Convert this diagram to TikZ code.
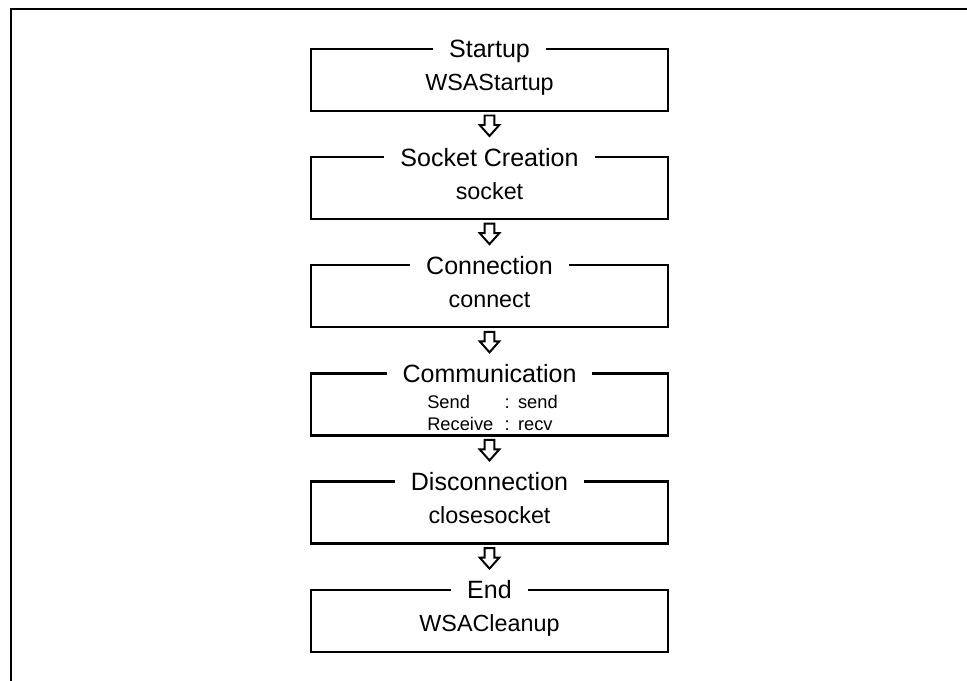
\documentclass[tikz,border=0pt]{standalone}
\usepackage{fontspec}
\setmainfont{Liberation Sans}
\usetikzlibrary{positioning,calc}

\tikzset{
  stage/.style={draw, line width=1.6pt, minimum width=8.925cm, minimum height=1.55cm, outer sep=0pt, inner sep=0pt},
  stagetitle/.style={fill=white, inner xsep=0.4cm, inner ysep=1pt, anchor=base, font=\fontsize{17.8}{21}\selectfont},
  stagefn/.style={anchor=base, inner sep=1pt, font=\fontsize{16.6}{19}\selectfont},
  nextarrow/.pic={\draw[line width=1.4pt, line join=miter] (-4.8,4.5) -- (4.8,4.5) -- (4.8,14) -- (9.8,14) -- (0,25) -- (-9.8,14) -- (-4.8,14) -- cycle;}
}

\begin{document}
\begin{tikzpicture}[x=0.025cm, y=-0.025cm]
\useasboundingbox (0,0) rectangle (967,681);
% frame
\draw[line width=1.7pt] (967,9) -- (11,9) -- (11,681);

% stages
\node[stage] (startup) at (489.5,80) {};
\node[stage, below=1.153cm of startup] (creation) {};
\node[stage, below=1.153cm of creation] (connection) {};
\node[stage, below=1.153cm of connection] (comm) {};
\node[stage, below=1.153cm of comm] (disconn) {};
\node[stage, below=1.153cm of disconn] (cleanup) {};

% titles on the top edge
\node[stagetitle] (startuptitle) at ($(startup.north)+(0,9)$) {Startup};
\node[stagetitle] (creationtitle) at ($(creation.north)+(0,9)$) {Socket Creation};
\node[stagetitle] (connectiontitle) at ($(connection.north)+(0,9)$) {Connection};
\node[stagetitle] (commtitle) at ($(comm.north)+(0,9)$) {Communication};
\node[stagetitle] (disconntitle) at ($(disconn.north)+(0,9)$) {Disconnection};
\node[stagetitle] (cleanuptitle) at ($(cleanup.north)+(0,9)$) {End};

% function names
\node[stagefn] (startupfn) at ($(startup.center)+(0,11)$) {WSAStartup};
\node[stagefn] (creationfn) at ($(creation.center)+(0,11)$) {socket};
\node[stagefn] (connectionfn) at ($(connection.center)+(0,11)$) {connect};
\node[stagefn, font=\fontsize{13}{15.6}\selectfont] (commfn) at ($(comm.center)+(3,4)$)
  {\begin{tabular}[t]{@{}l@{\hspace{8pt}}l@{}}Send & :\hspace{6pt}send\\ Receive & :\hspace{6pt}recv\end{tabular}};
\node[stagefn] (disconnfn) at ($(disconn.center)+(0,11)$) {closesocket};
\node[stagefn] (cleanupfn) at ($(cleanup.center)+(0,11)$) {WSACleanup};

% arrows between stages
\foreach \s in {startup,creation,connection,comm,disconn}
  \pic at (\s.south) {nextarrow};
\end{tikzpicture}
\end{document}
